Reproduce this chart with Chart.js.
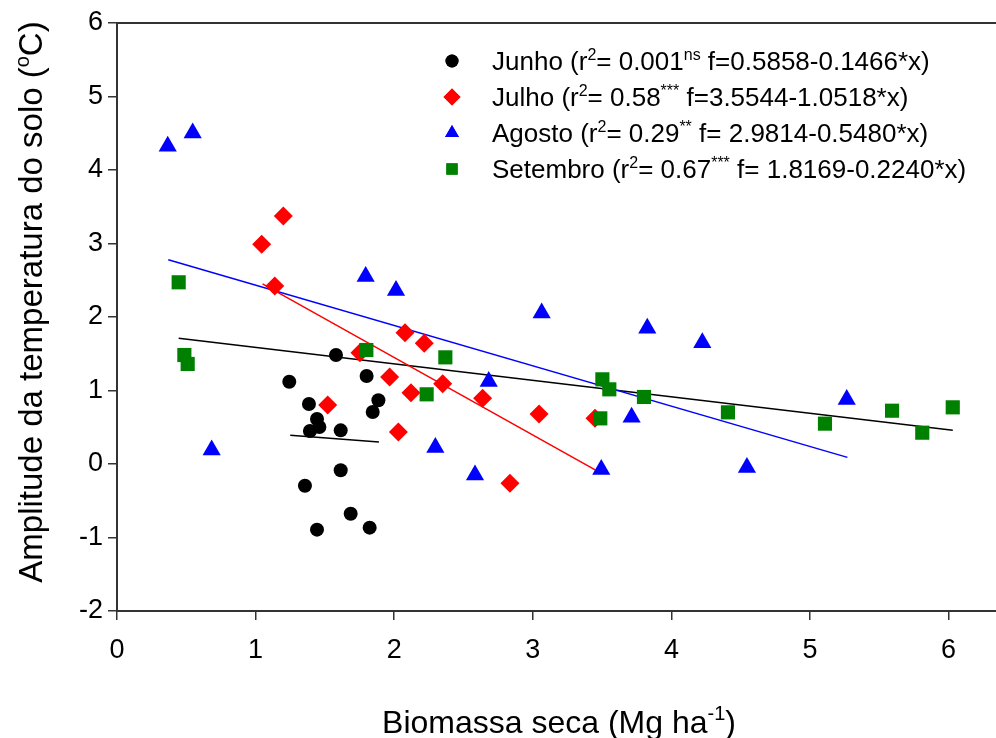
<!DOCTYPE html>
<html><head><meta charset="utf-8">
<script src="https://cdn.jsdelivr.net/npm/chart.js@4/dist/chart.umd.min.js"></script>
<style>html,body{margin:0;padding:0;background:#fff;overflow:hidden;} canvas{display:block;}</style>
</head><body>
<canvas id="c" width="996" height="738"></canvas>
<script>
// ---- data ----
const xTicks = [0, 1, 2, 3, 4, 5, 6];
const yTicks = [-2, -1, 0, 1, 2, 3, 4, 5, 6];

const junhoX = [1.580, 1.243, 1.801, 1.886, 1.845, 1.385, 1.443, 1.460, 1.392, 1.614, 1.614, 1.356, 1.686, 1.443, 1.823];
const junhoY = [1.483, 1.120, 1.197, 0.867, 0.707, 0.816, 0.612, 0.503, 0.449, 0.458, -0.086, -0.295, -0.676, -0.893, -0.866];

const julhoX = [1.200, 1.044, 1.138, 2.078, 2.217, 1.753, 1.967, 2.121, 2.350, 1.520, 2.638, 2.030, 3.045, 3.449, 2.835];
const julhoY = [3.374, 2.989, 2.422, 1.787, 1.642, 1.515, 1.184, 0.970, 1.093, 0.803, 0.894, 0.435, 0.680, 0.621, -0.263];

const agostoX = [0.366, 0.546, 1.794, 2.013, 3.064, 2.682, 0.683, 3.826, 3.713, 2.297, 2.583, 3.494, 4.223, 5.265, 4.545];
const agostoY = [4.324, 4.505, 2.550, 2.359, 2.056, 1.121, 0.192, 1.848, 0.637, 0.223, -0.148, -0.076, 1.648, 0.876, -0.049];

const setembroX = [0.445, 0.486, 0.510, 1.799, 2.369, 2.234, 3.502, 3.552, 3.802, 3.487, 4.408, 5.108, 5.592, 5.810, 6.030];
const setembroY = [2.472, 1.483, 1.361, 1.551, 1.451, 0.948, 1.152, 1.016, 0.912, 0.621, 0.703, 0.549, 0.725, 0.426, 0.771];

// fitted lines (end points as drawn in the picture)
const junhoFitX = [1.25, 1.89],    junhoFitY = [0.39, 0.30];
const julhoFitX = [1.05, 3.45],    julhoFitY = [2.45, -0.08];
const agostoFitX = [0.37, 5.27],   agostoFitY = [2.78, 0.09];
const setembroFitX = [0.445, 6.03], setembroFitY = [1.71, 0.46];

const seriesNames = ['Junho', 'Julho', 'Agosto', 'Setembro'];
const r2Values = ['0.001', '0.58', '0.29', '0.67'];
const signif = ['ns', '***', '**', '***'];
const equations = ['f=0.5858-0.1466*x)', 'f=3.5544-1.0518*x)', 'f= 2.9814-0.5480*x)', 'f= 1.8169-0.2240*x)'];

// ---- styling ----
const FAM = "'Liberation Sans', Arial, Helvetica, sans-serif";
const colors = ['#000000', '#ff0000', '#0000ff', '#008000'];
const styles = ['circle', 'rectRot', 'triangle', 'rect'];
const radii = [7, 9.5, 10.5, 10];

function pts(xs, ys) { return xs.map((x, i) => ({ x: x, y: ys[i] })); }

function drawRich(ctx, parts, x, y, size, align) {
  const supSize = Math.round(size * 0.62);
  let total = 0;
  parts.forEach(p => {
    ctx.font = (p.sup ? supSize : size) + 'px ' + FAM;
    p.w = ctx.measureText(p.t).width;
    total += p.w;
  });
  let cx = align === 'center' ? x - total / 2 : x;
  parts.forEach(p => {
    ctx.font = (p.sup ? supSize : size) + 'px ' + FAM;
    ctx.fillText(p.t, cx, p.sup ? y - size * 0.4 : y);
    cx += p.w;
  });
}

const decor = {
  id: 'decor',
  afterDraw(chart) {
    const ctx = chart.ctx;
    const a = chart.chartArea;
    ctx.save();
    // top frame line
    ctx.strokeStyle = '#333';
    ctx.lineWidth = 2;
    ctx.beginPath();
    ctx.moveTo(a.left, a.top);
    ctx.lineTo(a.right, a.top);
    ctx.stroke();

    ctx.fillStyle = '#000';
    ctx.textBaseline = 'alphabetic';
    ctx.textAlign = 'left';

    // legend
    const lx = 452, tx = 492, y0 = 61, dy = 36;
    const legR = [6.5, 8.5, 8, 8];
    for (let i = 0; i < 4; i++) {
      const cy = y0 + i * dy;
      ctx.fillStyle = colors[i];
      ctx.strokeStyle = colors[i];
      Chart.helpers.drawPoint(ctx, { pointStyle: styles[i], radius: legR[i], rotation: 0, borderWidth: 0 }, lx, cy);
      ctx.fill();
      ctx.fillStyle = '#000';
      drawRich(ctx, [
        { t: seriesNames[i] + ' (r' },
        { t: '2', sup: true },
        { t: '= ' + r2Values[i] },
        { t: signif[i], sup: true },
        { t: ' ' + equations[i] }
      ], tx, cy + 9, 26, 'left');
    }

    // x axis title
    drawRich(ctx, [
      { t: 'Biomassa seca (Mg ha' },
      { t: '-1', sup: true },
      { t: ')' }
    ], 559, 733, 32, 'center');

    // y axis title
    ctx.translate(42, 302);
    ctx.rotate(-Math.PI / 2);
    drawRich(ctx, [
      { t: 'Amplitude da temperatura do solo (' },
      { t: 'o', sup: true },
      { t: 'C)' }
    ], 0, 0, 33, 'center');
    ctx.restore();
  }
};

const datasets = [];
const fits = [[junhoFitX, junhoFitY, '#000000'], [julhoFitX, julhoFitY, '#ff0000'], [agostoFitX, agostoFitY, '#0000ff'], [setembroFitX, setembroFitY, '#000000']];
fits.forEach((f, i) => datasets.push({
  label: 'fit' + i, data: pts(f[0], f[1]), showLine: true, borderColor: f[2], borderWidth: 1.5,
  pointRadius: 0, fill: false, order: 10
}));
const sx = [junhoX, julhoX, agostoX, setembroX];
const sy = [junhoY, julhoY, agostoY, setembroY];
for (let i = 0; i < 4; i++) {
  datasets.push({
    label: seriesNames[i], data: pts(sx[i], sy[i]), showLine: false,
    pointStyle: styles[i], pointRadius: radii[i], pointBackgroundColor: colors[i],
    pointBorderColor: colors[i], pointBorderWidth: 0, order: 4 - i
  });
}

const tickFont = { family: FAM, size: 27 };
new Chart(document.getElementById('c').getContext('2d'), {
  type: 'scatter',
  data: { datasets: datasets },
  options: {
    responsive: false, animation: false, events: [],
    layout: { autoPadding: false, padding: { top: 23, right: 0, left: 0, bottom: 0 } },
    plugins: { legend: { display: false }, tooltip: { enabled: false } },
    scales: {
      x: {
        type: 'linear', min: 0, max: 6.342,
        afterBuildTicks(s) { s.ticks = xTicks.map(v => ({ value: v })); },
        afterFit(s) { s.height = 127; s.paddingRight = 0; s.paddingLeft = 0; },
        ticks: { stepSize: 1, autoSkip: false, maxRotation: 0, color: '#000', font: tickFont, padding: 14 },
        grid: { drawOnChartArea: false, drawTicks: true, tickLength: 9, color: '#333', lineWidth: 1.5 },
        border: { display: true, color: '#333', width: 2 }
      },
      y: {
        type: 'linear', min: -2, max: 6,
        afterBuildTicks(s) { s.ticks = yTicks.map(v => ({ value: v })); },
        afterFit(s) { s.width = 117; s.paddingTop = 0; s.paddingBottom = 0; },
        ticks: { stepSize: 1, autoSkip: false, color: '#000', font: tickFont, padding: 5 },
        grid: { drawOnChartArea: false, drawTicks: true, tickLength: 9, color: '#333', lineWidth: 1.5 },
        border: { display: true, color: '#333', width: 2 }
      }
    }
  },
  plugins: [decor]
});
</script>
</body></html>
